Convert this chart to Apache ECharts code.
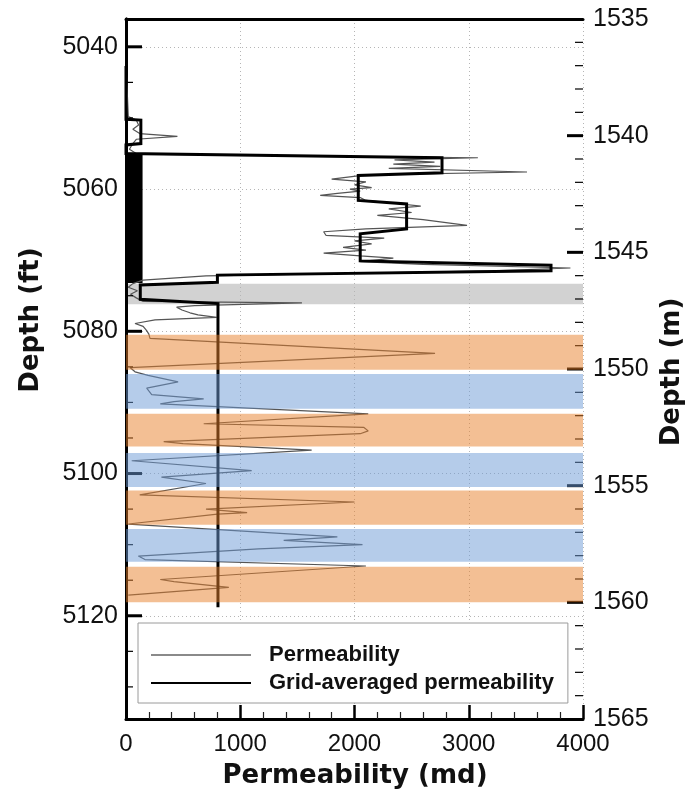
<!DOCTYPE html>
<html>
<head>
<meta charset="utf-8">
<script src="https://cdn.jsdelivr.net/npm/echarts@6/dist/echarts.min.js"></script>
<style>
  html, body { margin: 0; padding: 0; background: #fff; }
  #chart { width: 696px; height: 793px; }
</style>
</head>
<body>
<div id="chart"></div>
<script>
// Depth axis ranges (metres on the right, feet on the left)
const depthMinM = 1535;
const depthMaxM = 1565;
const FT_PER_M = 1 / 0.3048;

// Tick positions
const ftTicks = [5040, 5060, 5080, 5100, 5120];
const ftMinorTicks = [5045, 5050, 5055, 5065, 5070, 5075, 5085, 5090, 5095,
                      5105, 5110, 5115, 5125, 5130];
const mTicks = [1540, 1545, 1550, 1555, 1560];
const mMinorTicks = [1536, 1537, 1538, 1539, 1541, 1542, 1543, 1544, 1546, 1547, 1548, 1549,
                     1551, 1552, 1553, 1554, 1556, 1557, 1558, 1559, 1561, 1562, 1563, 1564];

// Core permeability log (depth in ft, permeability in md)
const permDepth = [
  5042.7, 5046.0, 5049.8, 5050.3, 5051.0, 5051.6, 5052.2, 5052.6, 5053.0, 5053.6,
  5054.4, 5055.1, 5055.6, 5055.9, 5056.2, 5056.5, 5056.8, 5057.1, 5057.6, 5058.0,
  5058.6, 5059.0, 5059.4, 5059.8, 5060.0, 5060.3, 5060.6, 5060.9, 5061.2, 5061.6,
  5062.0, 5062.4, 5062.8, 5063.3, 5063.7, 5064.3, 5065.1, 5065.6, 5066.0, 5066.5,
  5066.9, 5067.3, 5067.7, 5068.2, 5068.6, 5069.0, 5069.4, 5069.7, 5070.2, 5070.6,
  5071.1, 5071.5, 5072.2, 5072.8, 5073.3, 5073.8, 5074.3, 5074.8, 5075.3, 5075.8,
  5076.0, 5076.4, 5076.6, 5077.0, 5077.4, 5077.7, 5078.05, 5078.4, 5078.9, 5079.3,
  5079.9, 5080.4, 5081.0, 5083.1, 5085.1, 5085.7, 5086.2, 5087.1, 5088.0, 5088.9,
  5089.5, 5089.9, 5090.2, 5091.6, 5093.0, 5093.5, 5094.0, 5094.4, 5095.5, 5095.8,
  5096.7, 5098.2, 5099.6, 5100.5, 5101.4, 5103.0, 5104.0, 5105.0, 5105.5, 5105.7,
  5107.1, 5108.9, 5109.4, 5110.0, 5110.6, 5110.8, 5111.6, 5112.1, 5113.0, 5114.9,
  5115.2, 5116.0, 5117.1
];
const permValue = [
  0, 10, 20, 90, 110, 60, 120, 450, 90, 60,
  30, 100, 3080, 2350, 2700, 2340, 2750, 2300, 3510, 2100,
  1800, 2100, 2000, 2150, 1960, 2050, 1850, 1700, 2050, 2100,
  2350, 2580, 2300, 2500, 2200, 2600, 2985, 2100, 1730, 1750,
  2260, 2000, 2150, 1900, 2100, 1730, 2050, 2340, 2050, 2600,
  3890, 3200, 700, 150, 60, 20, 100, 40, 90, 150,
  1540, 600, 443, 490, 560, 630, 794, 254, 79, 150,
  181, 200, 210, 2705, 35, 79, 193, 456, 181, 225,
  680, 420, 300, 2120, 680, 2080, 2120, 2050, 330, 500,
  1625, 50, 1100, 310, 700, 120, 2000, 700, 1060, 800,
  20, 1850, 1380, 2070, 1160, 1150, 108, 166, 2100, 300,
  420, 900, 20
];

// Grid-averaged permeability (step profile)
const avgDepth = [
  5042.7, 5050.2, 5050.3, 5053.6, 5053.8, 5055.0, 5055.6, 5057.7, 5058.1, 5061.6,
  5062.1, 5065.6, 5066.3, 5070.1, 5070.7, 5071.5, 5072.1, 5073.1, 5073.5, 5075.5,
  5076.1, 5118.8
];
const avgValue = [
  0, 0, 130, 130, 0, 0, 2766, 2766, 2033, 2033,
  2456, 2456, 2050, 2050, 3720, 3720, 800, 800, 125, 125,
  805, 805
];

// Low-permeability packed interval (solid black) : [top, bottom, maxPerm]
const packedInterval = [5055.0, 5073.2, 145];

// Grey interval
const greyInterval = [5073.3, 5076.2];

// Layer bands
const bandTop =    [5080.5, 5086.0, 5091.6, 5097.1, 5102.4, 5107.8, 5113.1];
const bandBottom = [5085.4, 5090.9, 5096.2, 5101.9, 5107.2, 5112.4, 5118.1];
const bandKind =   ['orange', 'blue', 'orange', 'blue', 'orange', 'blue', 'orange'];

const bandColors = {
  orange: 'rgba(232,127,41,0.5)',
  blue: 'rgba(107,153,213,0.5)',
  grey: '#d2d2d2',
  black: '#000'
};

const permData = permDepth.map((d, i) => [permValue[i], d]);
const avgData = avgDepth.map((d, i) => [avgValue[i], d]);

const ftMin = depthMinM * FT_PER_M;
const ftMax = depthMaxM * FT_PER_M;

const tickFont = { fontFamily: 'Liberation Sans, Arial, sans-serif', fontSize: 25, color: '#111' };
const plainNum = v => String(v);

// Draws a horizontal rectangle spanning [x0, x1] md between two depths
function rectItem(x0, x1, d0, d1, fill, api) {
  const p0 = api.coord([x0, d0]);
  const p1 = api.coord([x1, d1]);
  return {
    type: 'rect',
    shape: { x: p0[0], y: p0[1], width: p1[0] - p0[0], height: p1[1] - p0[1] },
    style: { fill: fill }
  };
}

// Short inward tick on the left (atX = 0) or right (atX = 4000) frame
function tickSeries(values, yAxisIndex, atX, len, width) {
  const dir = atX === 0 ? 1 : -1;
  return {
    type: 'custom', xAxisIndex: 0, yAxisIndex: yAxisIndex, z: 6, clip: false, silent: true,
    data: values.map(v => [atX, v]),
    renderItem: (params, api) => {
      const p = api.coord([api.value(0), api.value(1)]);
      return {
        type: 'line',
        shape: { x1: p[0], y1: p[1], x2: p[0] + dir * len, y2: p[1] },
        style: { stroke: '#000', lineWidth: width }
      };
    }
  };
}

const chart = echarts.init(document.getElementById('chart'), null, { renderer: 'canvas' });

chart.setOption({
  animation: false,
  backgroundColor: '#fff',
  grid: { left: 126, right: 113, top: 19, bottom: 74, containLabel: false },
  xAxis: [
    {
      type: 'value', position: 'bottom', min: 0, max: 4000, interval: 1000, z: 2,
      axisLine: { show: true, lineStyle: { color: '#000', width: 3 } },
      axisTick: { show: true, inside: true, length: 14, lineStyle: { color: '#000', width: 2.5 } },
      minorTick: { show: true, splitNumber: 5, length: 7, lineStyle: { color: '#222', width: 1.2 } },
      axisLabel: Object.assign({ margin: 13, formatter: plainNum }, tickFont, { fontSize: 24 }),
      splitLine: { show: true, lineStyle: { color: '#b5b5b5', width: 1, type: [1, 3] } }
    },
    {
      type: 'value', position: 'top', min: 0, max: 4000, z: 2,
      axisLine: { show: true, lineStyle: { color: '#000', width: 3 } },
      axisTick: { show: false }, axisLabel: { show: false }, splitLine: { show: false }
    }
  ],
  yAxis: [
    {
      type: 'value', position: 'left', inverse: true, min: ftMin, max: ftMax, z: 2,
      axisLine: { show: true, lineStyle: { color: '#000', width: 3 } },
      axisTick: { show: false, customValues: ftTicks },
      axisLabel: Object.assign({ margin: 8, customValues: ftTicks, formatter: plainNum }, tickFont),
      splitLine: { show: true, lineStyle: { color: '#b5b5b5', width: 1, type: [1, 3] } }
    },
    {
      type: 'value', position: 'right', inverse: true, min: depthMinM, max: depthMaxM, interval: 5, z: 2,
      axisLine: { show: true, lineStyle: { color: '#000', width: 3 } },
      axisTick: { show: false },
      minorTick: { show: false },
      axisLabel: Object.assign({ margin: 10, formatter: plainNum }, tickFont),
      splitLine: { show: false }
    }
  ],
  legend: {
    data: [
      { name: 'Permeability', lineStyle: { width: 2, color: '#8a8a8a' },
        itemStyle: { color: 'rgba(0,0,0,0)', borderWidth: 0 } },
      { name: 'Grid-averaged permeability',
        itemStyle: { color: 'rgba(0,0,0,0)', borderWidth: 0 } }
    ],
    orient: 'vertical',
    left: 138, top: 623,
    padding: [20, 14, 8, 12],
    itemWidth: 100, itemHeight: 14, itemGap: 4,
    backgroundColor: '#fff',
    borderColor: '#9a9a9a', borderWidth: 1,
    selectedMode: false,
    textStyle: {
      fontFamily: 'Liberation Sans, Arial, sans-serif', fontWeight: 'bold',
      fontSize: 22, color: '#111', lineHeight: 24, padding: [0, 0, 0, 13]
    }
  },
  graphic: [
    {
      type: 'text', x: 31, y: 320, rotation: Math.PI / 2,
      style: { text: 'Depth (ft)', font: 'bold 26px "DejaVu Sans", sans-serif', fill: '#111',
               textAlign: 'center', textVerticalAlign: 'middle' }
    },
    {
      type: 'text', x: 672, y: 372, rotation: Math.PI / 2,
      style: { text: 'Depth (m)', font: 'bold 26px "DejaVu Sans", sans-serif', fill: '#111',
               textAlign: 'center', textVerticalAlign: 'middle' }
    },
    {
      type: 'text', x: 355, y: 776,
      style: { text: 'Permeability (md)', font: 'bold 26px "DejaVu Sans", sans-serif', fill: '#111',
               textAlign: 'center', textVerticalAlign: 'middle' }
    }
  ],
  series: [
    {
      name: 'grey interval', type: 'custom', xAxisIndex: 0, yAxisIndex: 0, z: 1, clip: true,
      silent: true,
      data: [[greyInterval[0], greyInterval[1]]],
      renderItem: (params, api) => rectItem(0, 4000, api.value(0), api.value(1), bandColors.grey, api)
    },
    {
      name: 'packed interval', type: 'custom', xAxisIndex: 0, yAxisIndex: 0, z: 3, clip: true,
      silent: true,
      data: [packedInterval],
      renderItem: (params, api) => rectItem(0, api.value(2), api.value(0), api.value(1), bandColors.black, api)
    },
    {
      name: 'Permeability', type: 'line', xAxisIndex: 0, yAxisIndex: 0, z: 4,
      symbol: 'none', smooth: false,
      lineStyle: { color: '#555', width: 1.2 },
      itemStyle: { color: '#8a8a8a' },
      data: permData
    },
    {
      name: 'Grid-averaged permeability', type: 'line', xAxisIndex: 0, yAxisIndex: 0, z: 5,
      symbol: 'none', smooth: false,
      lineStyle: { color: '#000', width: 3, join: 'miter' },
      itemStyle: { color: '#000' },
      data: avgData
    },
    tickSeries(ftTicks, 0, 0, 16, 3),
    tickSeries(ftMinorTicks, 0, 0, 7, 1.2),
    tickSeries(mTicks, 1, 4000, 16, 3),
    tickSeries(mMinorTicks, 1, 4000, 8, 1.2),
    {
      name: 'layers', type: 'custom', xAxisIndex: 0, yAxisIndex: 0, z: 10, clip: true,
      silent: true,
      data: bandTop.map((t, i) => [t, bandBottom[i], i]),
      renderItem: (params, api) =>
        rectItem(0, 4000, api.value(0), api.value(1), bandColors[bandKind[api.value(2)]], api)
    }
  ]
});
</script>
</body>
</html>
